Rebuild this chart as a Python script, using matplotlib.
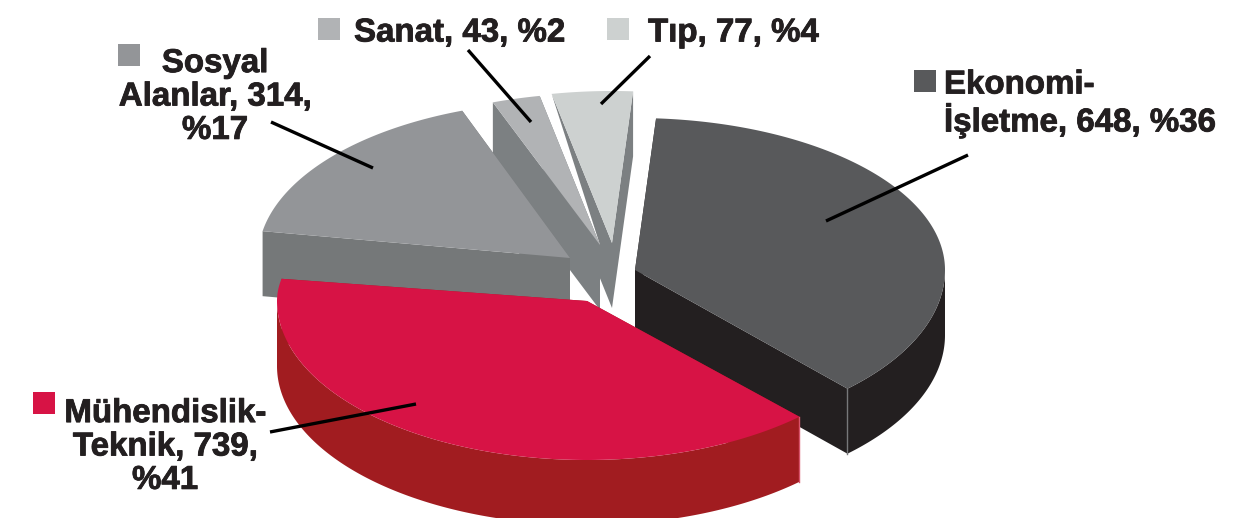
import numpy as np
from matplotlib import pyplot as plt
from matplotlib.patches import Polygon, Rectangle
import matplotlib.patheffects as pe

plt.rcParams['font.family'] = ['Liberation Sans', 'DejaVu Sans']

# data, clockwise from the top
labels = ['Ekonomi-\nİşletme, {}, %{}', 'Mühendislik-\nTeknik, {},\n%{}', 'Sosyal\nAlanlar, {},\n%{}',
          'Sanat, {}, %{}', 'Tıp, {}, %{}']
counts = [648, 739, 314, 43, 77]
percents = [36, 41, 17, 2, 4]
# size of each slice as it is drawn in the picture, % of the circle
drawn_share = [36.9, 39.75, 16.65, 2.5, 4.2]

top_colors = ['#58595b', '#d71345', '#939598', '#b1b3b5', '#cdd1d0']
wall_colors = ['#231f20', '#a11c20', '#757879', '#7c8082', '#7c8082']
edge_colors = ['#77787a', '#d9536a', None, None, None]

# layout, in pixels of the picture
start_angle = 3.9
depth = 65
rx = [310, 310, 312, 310, 310]
ry_front = [163, 159, 163, 163, 163]
ry_back = [152, 130, 157, 152, 152]
apex = [(635, 270), (587, 301), (570, 258), (600, 245), (612, 243)]
text_pos = [(944, 104, 'left'), (165, 447, 'center'), (215, 97, 'center'), (354, 33, 'left'), (648, 33, 'left')]
square_pos = [(914, 70), (33, 392), (118, 44), (318, 18), (607, 18)]
leaders = [((968, 155), (826, 221)), ((270, 432), (416, 404)), ((271, 122), (373, 168)),
           ((468, 50), (531, 122)), ((650, 56), (601, 104))]
draw_order = [4, 3, 2, 0, 1]
tip_wall_trim = 0.2


def rim(i, t):
    t = np.radians(t)
    c = np.cos(t)
    ry = np.where(c > 0, ry_back[i], ry_front[i])
    return np.column_stack([apex[i][0] + rx[i] * np.sin(t), apex[i][1] - ry * c])


def down(pts):
    return pts + np.array([0, depth])


fig, ax = plt.subplots(figsize=(12.59, 5.18), dpi=100)
ax.set_position([0, 0, 1, 1])
ax.set_xlim(0, 1259)
ax.set_ylim(518, 0)
ax.axis('off')

edges = start_angle + np.cumsum([0] + [s * 3.6 for s in drawn_share])

for z, i in enumerate(draw_order):
    t0, t1 = edges[i], edges[i + 1]
    c = np.array(apex[i], dtype=float)
    wall = wall_colors[i]
    arc = rim(i, np.linspace(t0, t1, 200))

    # radial walls, the Tip slice only shows a sliver of its left one
    ax.add_patch(Polygon([c, arc[-1], down(arc[-1]), down(c)], fc=wall, ec='none', zorder=z + 1))
    if i == 4:
        trim = down(c) + tip_wall_trim * (down(arc[0]) - down(c))
        ax.add_patch(Polygon([arc[0], c, down(c), trim, apex[3]], fc=wall, ec='none', zorder=z + 1))
    else:
        ax.add_patch(Polygon([c, arc[0], down(arc[0]), down(c)], fc=wall, ec='none', zorder=z + 1))

    # outer wall, only the half that faces the viewer
    ts = np.linspace(max(t0, 90), min(t1, 270), 200)
    if ts[-1] > ts[0]:
        front = rim(i, ts)
        ax.add_patch(Polygon(np.vstack([front, down(front)[::-1]]), fc=wall, ec='none', zorder=z + 1))
    ax.add_patch(Polygon(np.vstack([c, arc]), fc=top_colors[i], ec='none', zorder=z + 1.5))

    if edge_colors[i]:
        e = rim(i, t1 if i == 0 else t0)[0]
        ax.plot([e[0], e[0]], [e[1], e[1] + depth], color=edge_colors[i], lw=1, zorder=z + 1.6)

for i in range(len(labels)):
    x, y, ha = text_pos[i]
    ax.text(x, y, labels[i].format(counts[i], percents[i]), ha=ha, va='center', ma=ha, fontsize=23.8,
            fontweight='bold', color='#231f20', linespacing=1.1, zorder=10,
            path_effects=[pe.withStroke(linewidth=0.6, foreground='#231f20')])
    ax.add_patch(Rectangle(square_pos[i], 22, 22, fc=top_colors[i], ec='none', zorder=10))
    (x0, y0), (x1, y1) = leaders[i]
    ax.plot([x0, x1], [y0, y1], color='black', lw=2.4, solid_capstyle='butt', zorder=11)

fig.savefig('out.png', dpi=100)
